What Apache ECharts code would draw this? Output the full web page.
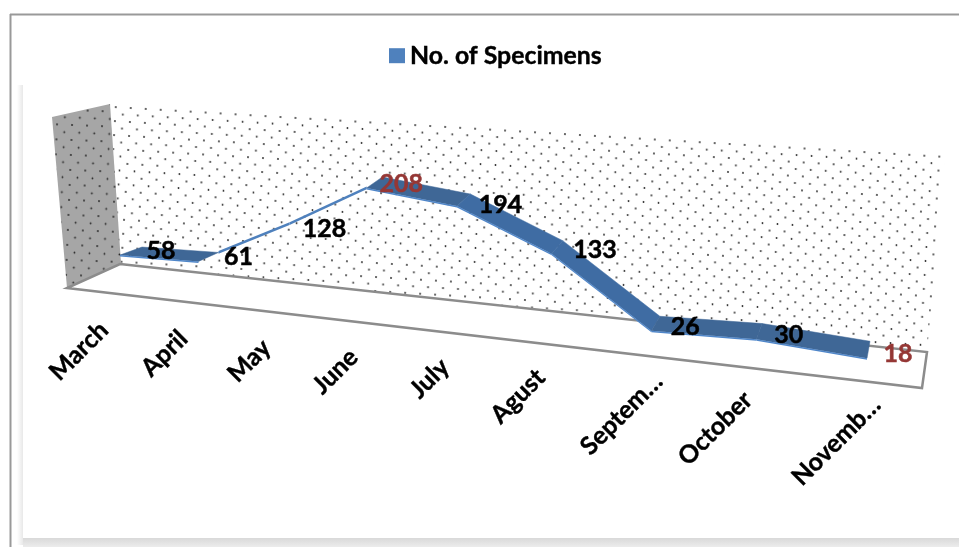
<!DOCTYPE html>
<html><head><meta charset="utf-8">
<script src="https://cdn.jsdelivr.net/npm/echarts@6/dist/echarts.min.js"></script>
<style>html,body{margin:0;padding:0;background:#fff}#c{width:959px;height:547px}</style>
</head><body><div id="c"></div>
<script>
const seriesName = 'No. of Specimens';
const categories = ['March','April','May','June','July','Agust','September','October','November'];
const tickLabels = ['March','April','May','June','July','Agust','Septem…','October','Novemb…'];
const specimens = [58,61,128,208,194,133,26,30,18];

const FONT = 'Lato, "Open Sans", sans-serif';
const GRID = {left:120, width:747, top:136, height:155};
const LABEL_NUDGE = [[0,0],[0,0],[5,4],[-3,0],[7,3],[8,0],[0,0],[0,0],[0,0]];
const maxV = Math.max(...specimens), minV = Math.min(...specimens);

function dotTile(bg, dot, w, h, r){
  const c = document.createElement('canvas'); c.width = w; c.height = h;
  const g = c.getContext('2d');
  if (bg){ g.fillStyle = bg; g.fillRect(0,0,w,h); }
  g.fillStyle = dot;
  [[2,2],[2+w/2,2+h/2]].forEach(p=>{ g.beginPath(); g.arc(p[0],p[1],r,0,Math.PI*2); g.fill(); });
  return c;
}
// perspective: wall-plane coordinates from the axes -> screen
function project(p){
  const t = (p[0]-GRID.left)/GRID.width;
  const s = t/(t+(1-t)*1.217);
  const x = GRID.left + GRID.width*s;
  return {s, x, y: p[1]+0.105*(x-GRID.left)};
}
function front(api,i){ const q = project(api.coord([i,specimens[i]])); return [q.x,q.y,q.s]; }
function back(api,i){ const f = front(api,i); return [f[0]+22-19*f[2], f[1]-8-9*f[2]]; }
function mid(a,b){ return [(a[0]+b[0])/2,(a[1]+b[1])/2]; }
function rises(i){ return i>=0 && i<specimens.length-1 && specimens[i+1]-specimens[i]>50; }

function renderRibbon(params,api){
  const i = params.dataIndex;
  if (i>=specimens.length-1) return {type:'group',children:[]};
  const F0=front(api,i).slice(0,2),F1=front(api,i+1).slice(0,2),B0=back(api,i),B1=back(api,i+1);
  if (rises(i)){
    const a = rises(i-1)? mid(F0,B0):B0, b = rises(i+1)? mid(F1,B1):F1;
    return {type:'polygon',shape:{points:[[a[0],a[1]-1.4],[b[0],b[1]-1.4],[b[0],b[1]+1.4],[a[0],a[1]+1.4]]},
      style:{fill:'#4f81bd'}};
  }
  const steep = Math.abs(specimens[i+1]-specimens[i])>50;
  return {type:'group',children:[
    {type:'polygon',shape:{points:[F0,B0,B1,F1]},style:{fill:steep?'#3f6ca3':'#3f6796',stroke:steep?'#3f6ca3':'#3f6796',lineWidth:.5}},
    {type:'polygon',shape:{points:[F0,F1,[F1[0],F1[1]+1.5],[F0[0],F0[1]+1.5]]},style:{fill:'#4f86c9'}}
  ]};
}
function renderLabels(params,api){
  const i = params.dataIndex, f = front(api,i), v = specimens[i];
  const cut = tickLabels[i].endsWith('…');
  const ex = f[0]-16+9*f[2];
  const ey = 326+0.1085*(ex-104);
  const col = (v===maxV||v===minV)?'#953735':'#000';
  return {type:'group',children:[
    {type:'text',x:f[0]+41-10*f[2]+LABEL_NUDGE[i][0],y:f[1]-4+LABEL_NUDGE[i][1],style:{text:String(v),font:'bold 25px '+FONT,
      fill:col,stroke:col,lineWidth:.5,align:'center',verticalAlign:'middle'}},
    {type:'text',x:ex+(cut?16.5:0),y:ey+(cut?-7:0),rotation:Math.PI/4,style:{text:tickLabels[i],font:'bold 25px '+FONT,
      fill:'#000',stroke:'#000',lineWidth:.4,align:'right',verticalAlign:'middle'}}
  ]};
}
const frame = '#8c8c8c';
const pts = categories.map((c,i)=>[i,specimens[i]]);
const chart = echarts.init(document.getElementById('c'),null,{renderer:'canvas'});
chart.setOption({
  animation:false,
  backgroundColor:'#fff',
  legend:{data:[seriesName],left:384,top:38,itemWidth:16,itemHeight:15,icon:'rect',itemGap:6,
    textStyle:{fontFamily:FONT,fontWeight:'bold',fontSize:24.8,color:'#000',textBorderColor:'#000',textBorderWidth:.4}},
  grid:GRID,
  xAxis:{type:'category',data:categories,boundaryGap:false,show:false},
  yAxis:{type:'value',min:0,max:250,show:false},
  series:[
    {name:seriesName,type:'custom',renderItem:renderRibbon,data:pts,itemStyle:{color:'#4f81bd'},z:3,clip:false,silent:true},
    {name:'labels',type:'custom',renderItem:renderLabels,data:pts,z:4,clip:false,silent:true}
  ],
  graphic:[
    {type:'rect',z:-5,shape:{x:17,y:85,width:6,height:460},style:{fill:{type:'linear',x:0,y:0,x2:1,y2:0,colorStops:[{offset:0,color:'#fff'},{offset:1,color:'#e8e8e8'}]}}},
    {type:'rect',z:-5,shape:{x:23,y:538,width:936,height:9},style:{fill:{type:'linear',x:0,y:0,x2:0,y2:1,colorStops:[{offset:0,color:'#d9d9d9'},{offset:1,color:'#ececec'}]}}},
    {type:'line',z:-4,shape:{x1:10.5,y1:14,x2:10.5,y2:547},style:{stroke:'#999',lineWidth:2}},
    {type:'line',z:-4,shape:{x1:10,y1:14.5,x2:959,y2:14.5},style:{stroke:'#999',lineWidth:2}},
    {type:'polygon',z:-3,shape:{points:[[110,104],[945,155],[927,352],[120,264]]},
      style:{fill:{type:'pattern',image:dotTile(null,'#222',15,14,.9),repeat:'repeat',rotation:.06}}},
    {type:'polygon',z:-3,shape:{points:[[52,117],[110,104],[121,263],[67,288]]},
      style:{fill:'#a6a6a6'}},
    {type:'polygon',z:-3,shape:{points:[[52,117],[110,104],[121,263],[67,288]]},
      style:{fill:{type:'pattern',image:dotTile(null,'#222',15,15,.9),repeat:'repeat',rotation:.04}}},
    {type:'polygon',z:-2,shape:{points:[[120,264],[927,352],[922,388],[67,288]]},
      style:{fill:'#fff',stroke:frame,lineWidth:2.5}}
  ]
});
</script></body></html>
